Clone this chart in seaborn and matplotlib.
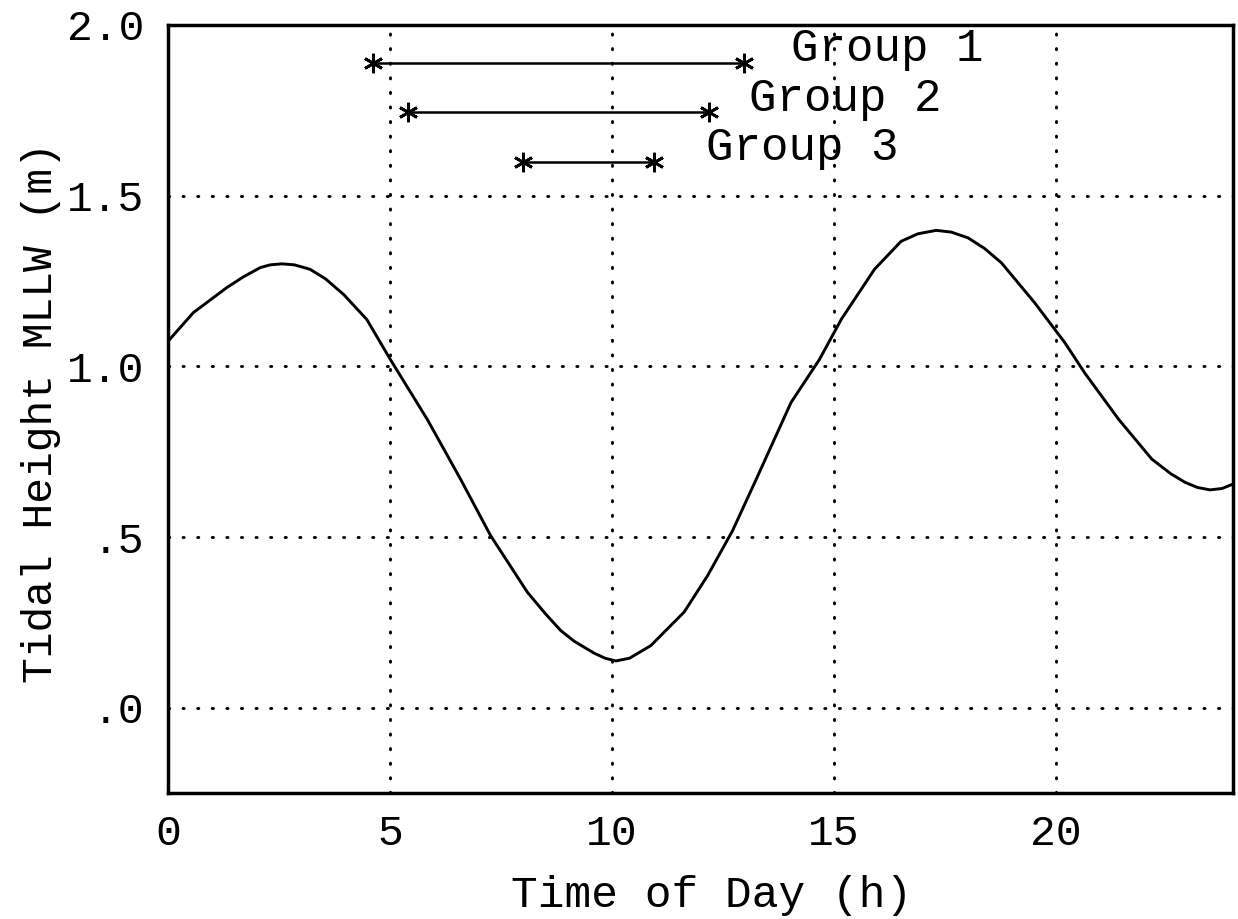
import matplotlib
matplotlib.use("Agg")
import matplotlib.pyplot as plt
import seaborn as sns
import pandas as pd

# Tidal curve
hours = [0.0, 0.57, 1.32, 1.7, 2.08, 2.3, 2.57, 2.85, 3.2, 3.55, 3.96, 4.48, 5.01,
         5.84, 6.59, 7.27, 8.1, 8.5, 8.85, 9.15, 9.6, 9.85, 10.09, 10.4, 10.88,
         11.63, 12.16, 12.72, 13.29, 14.04, 14.68, 15.17, 15.92, 16.52, 16.9,
         17.31, 17.65, 18.03, 18.4, 18.78, 19.53, 20.21, 20.66, 21.42, 22.17,
         22.6, 22.92, 23.2, 23.48, 23.75, 24.0]
tide = [1.073, 1.157, 1.23, 1.262, 1.289, 1.297, 1.30, 1.297, 1.284, 1.256, 1.21,
        1.137, 1.02, 0.845, 0.67, 0.504, 0.338, 0.276, 0.226, 0.195, 0.160, 0.145,
        0.137, 0.145, 0.182, 0.28, 0.387, 0.518, 0.679, 0.894, 1.02, 1.137, 1.284,
        1.366, 1.388, 1.398, 1.393, 1.376, 1.345, 1.303, 1.186, 1.069, 0.98,
        0.845, 0.728, 0.685, 0.660, 0.645, 0.638, 0.642, 0.655]

groups = ["Group 1", "Group 2", "Group 3"]
group_start = [4.63, 5.40, 7.99]
group_end = [12.98, 12.19, 10.95]
group_level = [1.889, 1.746, 1.599]
label_x = [14.04, 13.09, 12.12]
label_base = [1.895, 1.749, 1.603]

xticks = [0, 5, 10, 15, 20]
yticks = [0.0, 0.5, 1.0, 1.5, 2.0]
ytick_labels = [".0", ".5", "1.0", "1.5", "2.0"]

sns.set_style("white")
plt.rcParams['font.family'] = ['Liberation Mono', 'DejaVu Sans Mono']

fig = plt.figure(figsize=(12.38, 9.19), dpi=100)
ax = fig.add_axes([0.1357, 0.137, 0.8603, 0.836])

df = pd.DataFrame({"Time": hours, "Tide": tide})
sns.lineplot(data=df, x="Time", y="Tide", ax=ax, color="black", linewidth=2.1,
             sort=False, estimator=None)

for g, s, e, lv, lx, lb in zip(groups, group_start, group_end, group_level,
                               label_x, label_base):
    gdf = pd.DataFrame({"x": [s, e], "y": [lv, lv]})
    sns.lineplot(data=gdf, x="x", y="y", ax=ax, color="black", linewidth=1.8,
                 marker=(6, 2, 0), markersize=14, markeredgewidth=2.0,
                 markeredgecolor="black", estimator=None, sort=False)
    ax.text(lx, lb, g, fontsize=33, va="baseline", ha="left", color="black")

ax.set_xlim(0, 24)
ax.set_ylim(-0.25, 2.0)
ax.set_xticks(xticks)
ax.set_xticklabels([str(t) for t in xticks])
ax.set_yticks(yticks)
ax.set_yticklabels(ytick_labels)

ax.grid(True, color="black", linestyle=(0, (0.4, 4.6)), linewidth=2.1,
        dash_capstyle="round")
ax.set_axisbelow(True)

for sp in ax.spines.values():
    sp.set_visible(True)
    sp.set_color("black")
    sp.set_linewidth(2.5)

ax.tick_params(axis="both", direction="in", length=10, width=2, color="black",
               labelsize=31, labelcolor="black")
ax.tick_params(axis="y", pad=17)
ax.tick_params(axis="x", pad=15)

ax.set_xlabel("Time of Day (h)", fontsize=32, color="black")
ax.set_ylabel("Tidal Height MLLW (m)", fontsize=31, color="black")
ax.xaxis.set_label_coords(0.51, -0.106)
ax.yaxis.set_label_coords(-0.10, 0.495)

fig.savefig("out.png", dpi=100)
